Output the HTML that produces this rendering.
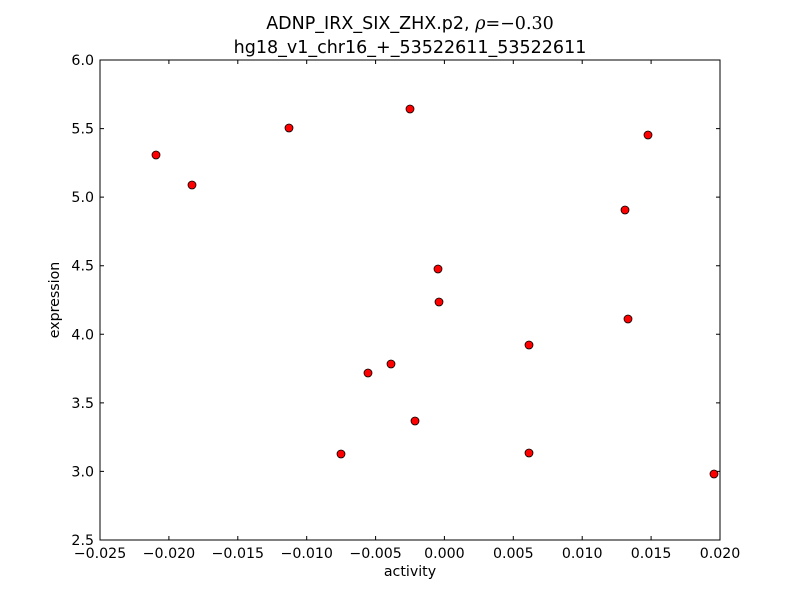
<!DOCTYPE html>
<html><head><style>body{margin:0;background:#fff}</style></head><body>
<svg width="800" height="600" xmlns="http://www.w3.org/2000/svg" font-family="DejaVu Sans, Liberation Sans, sans-serif">
<rect width="800" height="600" fill="#fff"/>
<text x="410" y="29" font-size="17.5" text-anchor="middle">ADNP_IRX_SIX_ZHX.p2, <tspan font-family="DejaVu Serif, serif" font-style="italic">ρ</tspan><tspan font-family="DejaVu Serif, serif">=−0.30</tspan></text>
<text x="410" y="53" font-size="17.5" text-anchor="middle">hg18_v1_chr16_+_53522611_53522611</text>
<rect x="100" y="60" width="620" height="480" fill="none" stroke="#000" stroke-width="1"/>
<g stroke="#000" stroke-width="1">
<path d="M100,540v-4M168.9,540v-4M237.8,540v-4M306.7,540v-4M375.6,540v-4M444.4,540v-4M513.3,540v-4M582.2,540v-4M651.1,540v-4M720,540v-4"/>
<path d="M100,60v4M168.9,60v4M237.8,60v4M306.7,60v4M375.6,60v4M444.4,60v4M513.3,60v4M582.2,60v4M651.1,60v4M720,60v4"/>
<path d="M100,540h4M100,471.4h4M100,402.9h4M100,334.3h4M100,265.7h4M100,197.1h4M100,128.6h4M100,60h4"/>
<path d="M720,540h-4M720,471.4h-4M720,402.9h-4M720,334.3h-4M720,265.7h-4M720,197.1h-4M720,128.6h-4M720,60h-4"/>
</g>
<g font-size="14.2" text-anchor="middle">
<text x="100" y="558">−0.025</text><text x="168.9" y="558">−0.020</text><text x="237.8" y="558">−0.015</text><text x="306.7" y="558">−0.010</text><text x="375.6" y="558">−0.005</text><text x="444.4" y="558">0.000</text><text x="513.3" y="558">0.005</text><text x="582.2" y="558">0.010</text><text x="651.1" y="558">0.015</text><text x="720" y="558">0.020</text>
</g>
<g font-size="14.2" text-anchor="end">
<text x="94" y="545">2.5</text><text x="94" y="476.4">3.0</text><text x="94" y="407.9">3.5</text><text x="94" y="339.3">4.0</text><text x="94" y="270.7">4.5</text><text x="94" y="202.1">5.0</text><text x="94" y="133.6">5.5</text><text x="94" y="65">6.0</text>
</g>
<text x="410" y="576" font-size="14.2" text-anchor="middle">activity</text>
<text transform="translate(59,300) rotate(-90)" font-size="14.2" text-anchor="middle">expression</text>
<g fill="#f00" stroke="#000" stroke-width="0.8">
<circle cx="156" cy="155" r="4"/><circle cx="192" cy="185" r="4"/><circle cx="289" cy="128" r="4"/><circle cx="410" cy="109" r="4"/><circle cx="438" cy="269" r="4"/><circle cx="439" cy="302" r="4"/><circle cx="391" cy="364" r="4"/><circle cx="368" cy="373" r="4"/><circle cx="341" cy="454" r="4"/><circle cx="415" cy="421" r="4"/><circle cx="529" cy="345" r="4"/><circle cx="529" cy="453" r="4"/><circle cx="625" cy="210" r="4"/><circle cx="648" cy="135" r="4"/><circle cx="628" cy="319" r="4"/><circle cx="714" cy="474" r="4"/>
</g>
</svg>
</body></html>
